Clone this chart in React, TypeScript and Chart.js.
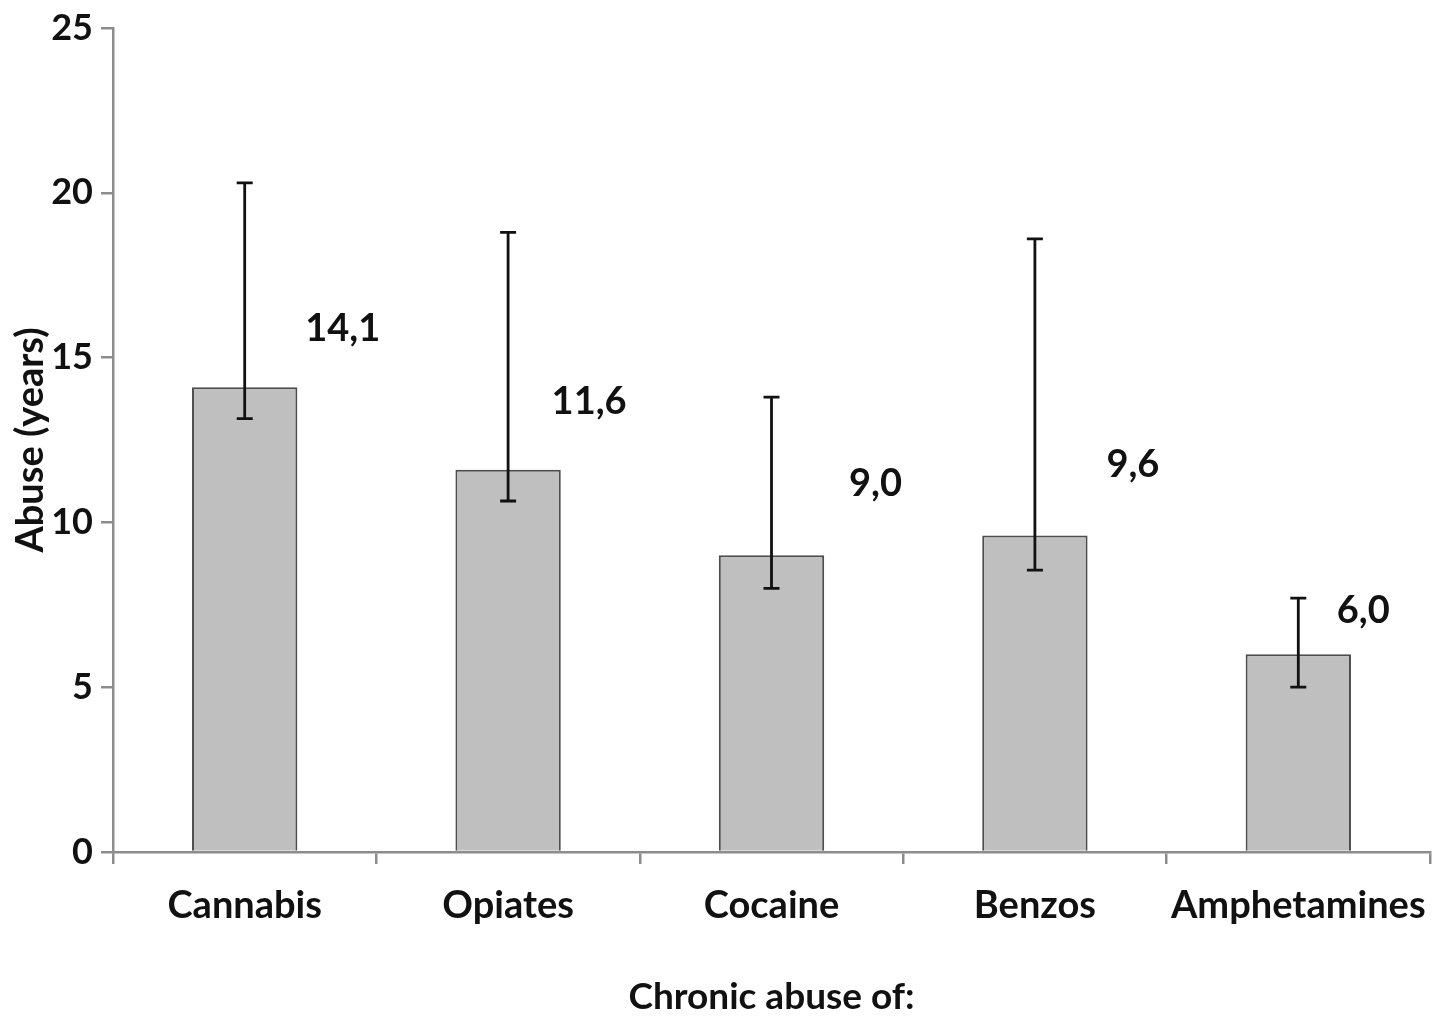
import React, { useEffect, useRef } from "react";
import { Chart, registerables } from "chart.js";

Chart.register(...registerables);

const categories = ["Cannabis", "Opiates", "Cocaine", "Benzos", "Amphetamines"];
const meanYears = [14.1, 11.6, 9.0, 9.6, 6.0];
const errorUpper = [20.3, 18.8, 13.8, 18.6, 7.7];
const errorLower = [13.15, 10.65, 8.0, 8.55, 5.0];
const valueLabels = ["14,1", "11,6", "9,0", "9,6", "6,0"];
const yTicks = [0, 5, 10, 15, 20, 25];

// label placement offsets (px) relative to bar centre / bar top
const labelDx = [98, 81, 104, 98, 65];
const labelDy = [-59, -68, -72, -71, -43];

const FONT = "Lato, 'Open Sans', sans-serif";

const overlayPlugin = {
  id: "overlay",
  afterDatasetsDraw(chart: any) {
    const ctx = chart.ctx;
    const meta = chart.getDatasetMeta(0);
    const y = chart.scales.y;
    ctx.save();
    // error bars
    ctx.strokeStyle = "#111";
    ctx.lineWidth = 2.8;
    meta.data.forEach((bar: any, i: number) => {
      const x = bar.x;
      const yt = y.getPixelForValue(errorUpper[i]);
      const yb = y.getPixelForValue(errorLower[i]);
      ctx.beginPath();
      ctx.moveTo(x, yt);
      ctx.lineTo(x, yb);
      ctx.moveTo(x - 8, yt);
      ctx.lineTo(x + 8, yt);
      ctx.moveTo(x - 8, yb);
      ctx.lineTo(x + 8, yb);
      ctx.stroke();
    });
    // value labels
    ctx.fillStyle = "#111";
    ctx.font = `bold 38px ${FONT}`;
    ctx.textAlign = "center";
    ctx.textBaseline = "middle";
    meta.data.forEach((bar: any, i: number) => {
      ctx.fillText(valueLabels[i], bar.x + labelDx[i], bar.y + labelDy[i]);
    });
    ctx.restore();
  },
};

export default function App() {
  const canvasRef = useRef<HTMLCanvasElement | null>(null);

  useEffect(() => {
    document.body.style.margin = "0";
    const canvas = canvasRef.current!;
    const chart = new Chart(canvas, {
      type: "bar",
      data: {
        labels: categories,
        datasets: [
          {
            data: meanYears,
            backgroundColor: "#bfbfbf",
            borderColor: "#4d4d4d",
            borderWidth: 2,
            barPercentage: 0.4,
            categoryPercentage: 1.0,
          },
        ],
      },
      options: {
        responsive: false,
        animation: false,
        devicePixelRatio: 1,
        layout: { padding: { top: 28, right: 11, left: 0, bottom: 0 } },
        plugins: {
          legend: { display: false },
          tooltip: { enabled: false },
        },
        scales: {
          x: {
            offset: true,
            grid: {
              offset: true,
              drawOnChartArea: false,
              drawTicks: true,
              tickLength: 12,
              color: "#8c8c8c",
              lineWidth: 2.5,
            },
            border: { color: "#8c8c8c", width: 2.5 },
            ticks: {
              color: "#111",
              font: { family: FONT, size: 38, weight: "bold" },
              padding: 19,
              maxRotation: 0,
              autoSkip: false,
            },
            title: {
              display: true,
              text: "Chronic abuse of:",
              color: "#111",
              font: { family: FONT, size: 37, weight: "bold" },
              padding: { top: 0, bottom: 5 },
            },
            afterFit(scale: any) {
              scale.height = 172;
              scale.paddingLeft = 0;
              scale.paddingRight = 0;
            },
          },
          y: {
            min: 0,
            max: 25,
            afterBuildTicks(scale: any) {
              scale.ticks = yTicks.map((v) => ({ value: v }));
            },
            grid: {
              drawOnChartArea: false,
              drawTicks: true,
              tickLength: 12,
              color: "#8c8c8c",
              lineWidth: 2.5,
            },
            border: { color: "#8c8c8c", width: 2.5 },
            ticks: {
              color: "#111",
              font: { family: FONT, size: 36, weight: "bold" },
              padding: 8,
            },
            title: {
              display: true,
              text: "Abuse (years)",
              color: "#111",
              font: { family: FONT, size: 38, weight: "bold" },
              padding: { top: 8, bottom: 0 },
            },
            afterFit(scale: any) {
              scale.width = 113;
              scale.paddingTop = 0;
              scale.paddingBottom = 0;
            },
          },
        },
      },
      plugins: [overlayPlugin],
    });
    return () => chart.destroy();
  }, []);

  return (
    <div style={{ width: 1441, height: 1024, background: "#fff" }}>
      <canvas ref={canvasRef} width={1441} height={1024} />
    </div>
  );
}
